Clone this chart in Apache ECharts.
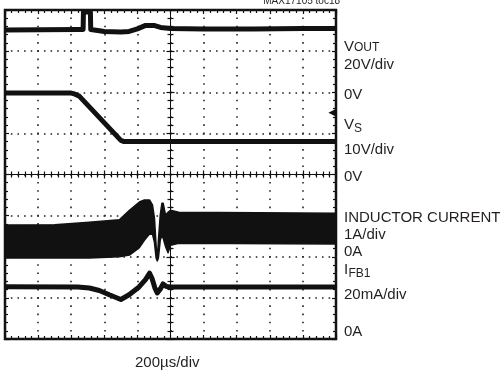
<!DOCTYPE html>
<html>
<head>
<meta charset="utf-8">
<script src="https://cdn.jsdelivr.net/npm/echarts@6/dist/echarts.min.js"></script>
<style>
  html, body { margin: 0; padding: 0; background: #fff; }
  #chart { width: 504px; height: 376px; }
</style>
</head>
<body>
<div id="chart"></div>
<script>
// time in us (200us/div, trigger at centre)
const voutTime  = [-1000, -560, -528, -526, -484, -482, -440, -400, -300, -250, -200, -150, -100, -60, 0, 200, 500, 800, 1000];
const voutVolts = [30.3, 30.5, 30.5, 39.0, 39.0, 30.5, 30.0, 29.5, 29.3, 29.6, 30.8, 32.5, 32.5, 31.5, 31.0, 30.8, 30.8, 31.0, 31.0];

const vsTime  = [-1000, -600, -580, -550, -300, -280, 1000];
const vsVolts = [19.8, 19.8, 19.6, 19.0, 8.3, 8.0, 8.0];

// inductor current envelope (switching ripple band)
const ilTime  = [-1000, -700, -491, -309, -248, -188, -158, -127, -109, -97, -87, -80, -73, -62, -52, -44, -30, -15, 0, 50, 1000];
const ilUpper = [0.77, 0.78, 0.84, 0.90, 1.13, 1.33, 1.38, 1.38, 1.26, 0.94, 0.28, -0.08, 0.40, 1.01, 1.30, 1.30, 1.01, 1.08, 1.13, 1.08, 1.06];
const ilLower = [-0.03, -0.03, -0.03, 0.0, 0.04, 0.22, 0.40, 0.55, 0.55, 0.35, -0.03, -0.10, -0.03, 0.40, 0.53, 0.45, 0.25, 0.10, 0.28, 0.33, 0.31];

const ifbTime = [-1000, -560, -490, -430, -370, -300, -250, -190, -150, -127, -112, -95, -80, -60, -45, -25, 0, 1000];
const ifbMa   = [25.4, 25.3, 24.8, 23.6, 21.5, 19.2, 21.5, 25.3, 29.0, 32.0, 29.5, 25.0, 22.4, 24.5, 26.8, 25.5, 25.3, 25.3];

// channel scale (units/div) and ground level (div from centre)
const ch = {
  vout: { scale: 20, ground: 2 },
  vs:   { scale: 10, ground: 0 },
  il:   { scale: 1,  ground: -2 },
  ifb:  { scale: 20, ground: -4 }
};
const trigLevel = { time: 975, volts: 15 };

const toDiv = (v, c) => v / c.scale + c.ground;
const pts = (ts, vs, c) => ts.map((t, i) => [t, toDiv(vs[i], c)]);

const ink = '#111';
const txt = '#231f20';
const font = '15px "Liberation Sans", Arial, sans-serif';
const subFont = '12px "Liberation Sans", Arial, sans-serif';

const baseX = { type: 'value', min: -1000, max: 1000, interval: 200, axisLabel: { show: false }, splitLine: { show: false } };
const baseY = { type: 'value', min: -4, max: 4, interval: 1, axisLabel: { show: false }, splitLine: { show: false } };
const tick = (len) => ({ show: true, inside: true, length: len, lineStyle: { color: ink, width: 1.2 } });
const minor = (len) => ({ show: true, splitNumber: 5, length: len, lineStyle: { color: ink, width: 1.2 } });

const ilRows = ilTime.map((t, i) => [t, toDiv(ilUpper[i], ch.il), toDiv(ilLower[i], ch.il)]);

// whole ripple band as one polygon (upper edge, then lower edge back)
function renderBand(params, api) {
  if (params.dataIndex !== 0) return null;
  const up = ilRows.map(r => api.coord([r[0], r[1]]));
  const lo = ilRows.map(r => api.coord([r[0], r[2]])).reverse();
  return {
    type: 'polygon',
    shape: { points: up.concat(lo) },
    style: { fill: ink, stroke: ink, lineWidth: 1.5, lineJoin: 'round' }
  };
}

const chart = echarts.init(document.getElementById('chart'), null, { renderer: 'canvas' });

const option = {
  animation: false,
  backgroundColor: '#fff',
  grid: { left: 5, top: 10, width: 331, height: 329, show: true, borderColor: ink, borderWidth: 2.5, backgroundColor: 'transparent' },
  xAxis: [
    // centre line, ticks up
    Object.assign({}, baseX, {
      position: 'bottom',
      axisLine: { show: true, onZero: true, onZeroAxisIndex: 0, lineStyle: { color: ink, width: 1 } },
      axisTick: tick(4), minorTick: minor(3),
      splitLine: { show: true, lineStyle: { color: '#222', width: 1.6, type: [1.6, 6.625], dashOffset: 0.8 } }
    }),
    // centre line, ticks down
    Object.assign({}, baseX, {
      position: 'top',
      axisLine: { show: false, onZero: true, onZeroAxisIndex: 0 },
      axisTick: tick(4), minorTick: minor(3)
    }),
    Object.assign({}, baseX, { position: 'bottom', axisLine: { show: false, onZero: false }, axisTick: tick(4), minorTick: minor(3) }),
    Object.assign({}, baseX, { position: 'top', axisLine: { show: false, onZero: false }, axisTick: tick(4), minorTick: minor(3) })
  ],
  yAxis: [
    Object.assign({}, baseY, {
      position: 'left',
      axisLine: { show: true, onZero: true, onZeroAxisIndex: 0, lineStyle: { color: ink, width: 1 } },
      axisTick: tick(4), minorTick: minor(3),
      splitLine: { show: true, lineStyle: { color: '#222', width: 1.6, type: [1.6, 5.02], dashOffset: 0.8 } }
    }),
    Object.assign({}, baseY, {
      position: 'right',
      axisLine: { show: false, onZero: true, onZeroAxisIndex: 0 },
      axisTick: tick(4), minorTick: minor(3)
    }),
    Object.assign({}, baseY, { position: 'left', axisLine: { show: false, onZero: false }, axisTick: tick(4), minorTick: minor(3) }),
    Object.assign({}, baseY, { position: 'right', axisLine: { show: false, onZero: false }, axisTick: tick(4), minorTick: minor(3) })
  ],
  series: [
    {
      name: 'VOUT', type: 'line', xAxisIndex: 0, yAxisIndex: 0, showSymbol: false, symbol: 'none',
      data: pts(voutTime, voutVolts, ch.vout),
      lineStyle: { color: ink, width: 5, join: 'round' }
    },
    {
      name: 'VS', type: 'line', xAxisIndex: 0, yAxisIndex: 0, showSymbol: false, symbol: 'none',
      data: pts(vsTime, vsVolts, ch.vs),
      lineStyle: { color: ink, width: 5, join: 'round' },
      markPoint: {
        symbol: 'triangle', symbolSize: [7, 7], symbolRotate: 90, silent: true,
        itemStyle: { color: ink }, label: { show: false },
        data: [{ coord: [trigLevel.time, toDiv(trigLevel.volts, ch.vs)] }]
      }
    },
    {
      name: 'INDUCTOR CURRENT', type: 'custom', xAxisIndex: 0, yAxisIndex: 0,
      renderItem: renderBand,
      encode: { x: 0, y: [1, 2] },
      data: ilRows
    },
    {
      name: 'IFB1', type: 'line', xAxisIndex: 0, yAxisIndex: 0, showSymbol: false, symbol: 'none',
      data: pts(ifbTime, ifbMa, ch.ifb),
      lineStyle: { color: ink, width: 5, join: 'round' }
    }
  ],
  graphic: [
    { type: 'text', x: 340, y: 1, style: { text: 'MAX17105 toc18', font: '10px "Liberation Sans", Arial, sans-serif', fill: txt, align: 'right', verticalAlign: 'middle', textAlign: 'right', textVerticalAlign: 'middle' } },
    { type: 'text', x: 344, y: 46.7, style: { text: 'V', font: font, fill: txt, verticalAlign: 'middle', textVerticalAlign: 'middle' } },
    { type: 'text', x: 354, y: 47.8, style: { text: 'OUT', font: subFont, fill: txt, verticalAlign: 'middle', textVerticalAlign: 'middle' } },
    { type: 'text', x: 344, y: 64.7, style: { text: '20V/div', font: font, fill: txt, verticalAlign: 'middle', textVerticalAlign: 'middle' } },
    { type: 'text', x: 344, y: 94.7, style: { text: '0V', font: font, fill: txt, verticalAlign: 'middle', textVerticalAlign: 'middle' } },
    { type: 'text', x: 344, y: 124.7, style: { text: 'V', font: font, fill: txt, verticalAlign: 'middle', textVerticalAlign: 'middle' } },
    { type: 'text', x: 354, y: 128.8, style: { text: 'S', font: subFont, fill: txt, verticalAlign: 'middle', textVerticalAlign: 'middle' } },
    { type: 'text', x: 344, y: 149.7, style: { text: '10V/div', font: font, fill: txt, verticalAlign: 'middle', textVerticalAlign: 'middle' } },
    { type: 'text', x: 344, y: 176.7, style: { text: '0V', font: font, fill: txt, verticalAlign: 'middle', textVerticalAlign: 'middle' } },
    { type: 'text', x: 344, y: 217.7, style: { text: 'INDUCTOR CURRENT', font: font, fill: txt, verticalAlign: 'middle', textVerticalAlign: 'middle' } },
    { type: 'text', x: 344, y: 234.7, style: { text: '1A/div', font: font, fill: txt, verticalAlign: 'middle', textVerticalAlign: 'middle' } },
    { type: 'text', x: 344, y: 251.7, style: { text: '0A', font: font, fill: txt, verticalAlign: 'middle', textVerticalAlign: 'middle' } },
    { type: 'text', x: 344, y: 269.7, style: { text: 'I', font: font, fill: txt, verticalAlign: 'middle', textVerticalAlign: 'middle' } },
    { type: 'text', x: 348.5, y: 273.8, style: { text: 'FB1', font: subFont, fill: txt, verticalAlign: 'middle', textVerticalAlign: 'middle' } },
    { type: 'text', x: 344, y: 294.7, style: { text: '20mA/div', font: font, fill: txt, verticalAlign: 'middle', textVerticalAlign: 'middle' } },
    { type: 'text', x: 344, y: 331.7, style: { text: '0A', font: font, fill: txt, verticalAlign: 'middle', textVerticalAlign: 'middle' } },
    { type: 'text', x: 135, y: 362.7, style: { text: '200µs/div', font: font, fill: txt, verticalAlign: 'middle', textVerticalAlign: 'middle' } }
  ]
};

chart.setOption(option);
</script>
</body>
</html>
